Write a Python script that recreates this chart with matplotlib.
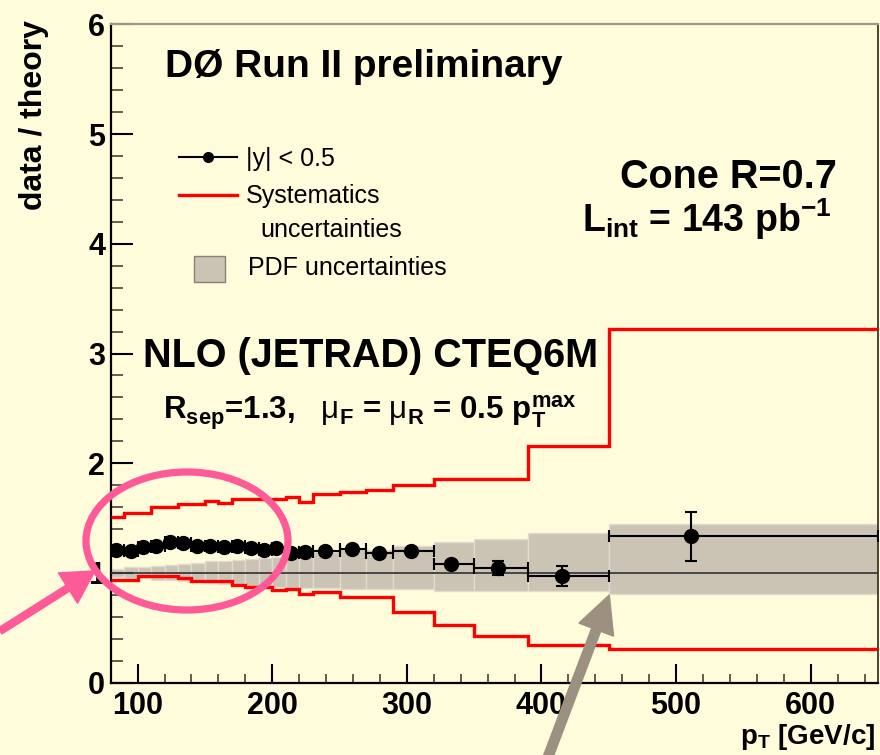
import numpy as np
import matplotlib
matplotlib.use('Agg')
import matplotlib.pyplot as plt
from matplotlib.patches import Ellipse, FancyArrow, Rectangle
from matplotlib.transforms import IdentityTransform
from matplotlib.ticker import MultipleLocator

plt.rcParams['font.family'] = ['Liberation Sans', 'DejaVu Sans']
plt.rcParams['mathtext.fontset'] = 'custom'
plt.rcParams['mathtext.rm'] = 'Liberation Sans'
plt.rcParams['mathtext.bf'] = 'Liberation Sans:bold'
plt.rcParams['mathtext.it'] = 'Liberation Sans:italic'
plt.rcParams['mathtext.default'] = 'bf'

# ==========================================
# Data: |y| < 0.5 inclusive jet ratio to NLO
# ==========================================
bin_edges = np.array([80, 90, 100, 110, 120, 130, 140, 150, 160, 170, 180, 190,
                      200, 210, 220, 230, 250, 270, 290, 320, 350, 390, 450, 650])

pt_points = np.array([84, 95, 104, 114, 124, 134, 144, 154, 164, 174, 184, 194,
                      203, 214, 224, 239, 259, 279, 303, 333, 368, 415, 511])
ratio = np.array([1.21, 1.20, 1.24, 1.25, 1.28, 1.27, 1.245, 1.245, 1.24, 1.245,
                  1.225, 1.21, 1.225, 1.185, 1.19, 1.196, 1.218, 1.182, 1.196,
                  1.081, 1.045, 0.969, 1.333])
stat_err = np.array([0.01, 0.01, 0.01, 0.01, 0.01, 0.01, 0.01, 0.01, 0.01, 0.01,
                     0.01, 0.01, 0.01, 0.012, 0.012, 0.012, 0.015, 0.018, 0.02,
                     0.03, 0.064, 0.09, 0.22])

# systematic uncertainty envelope (per bin)
sys_hi = np.array([1.51, 1.55, 1.55, 1.60, 1.60, 1.63, 1.63, 1.655, 1.64, 1.67,
                   1.67, 1.67, 1.67, 1.69, 1.65, 1.72, 1.74, 1.76, 1.80, 1.86,
                   1.86, 2.16, 3.22])
sys_lo = np.array([0.94, 0.94, 0.97, 0.97, 0.97, 0.95, 0.93, 0.93, 0.93, 0.89,
                   0.875, 0.875, 0.845, 0.85, 0.81, 0.83, 0.78, 0.78, 0.64, 0.525,
                   0.43, 0.34, 0.305])

# PDF uncertainty band (per bin)
pdf_hi = np.array([1.04, 1.05, 1.055, 1.065, 1.075, 1.085, 1.095, 1.105, 1.11,
                   1.12, 1.13, 1.14, 1.15, 1.16, 1.17, 1.19, 1.22, 1.21, 1.25,
                   1.28, 1.31, 1.36, 1.45])
pdf_lo = np.array([0.96, 0.955, 0.95, 0.94, 0.935, 0.93, 0.92, 0.91, 0.90, 0.895,
                   0.885, 0.88, 0.87, 0.865, 0.86, 0.86, 0.855, 0.855, 0.85, 0.84,
                   0.84, 0.835, 0.81])

x_ticks = [100, 200, 300, 400, 500, 600]
y_ticks = [0, 1, 2, 3, 4, 5, 6]

bg = '#fffcdc'
band_color = '#cbc4b5'
pink = '#ff5a98'
arrow_gray = '#9c9080'

# ==========================================
# Figure
# ==========================================
W, H = 880, 755
fig = plt.figure(figsize=(W / 100, H / 100), dpi=100, facecolor=bg)
ax = fig.add_axes([110.7 / W, 72.3 / H, 767.3 / W, 658.4 / H], facecolor=bg)

widths = np.diff(bin_edges)
ax.bar(bin_edges[:-1], pdf_hi - pdf_lo, width=widths, bottom=pdf_lo,
       align='edge', color=band_color, edgecolor='#e3dbcb', linewidth=1.0, zorder=1)

ax.stairs(sys_hi, bin_edges, baseline=None, color='#ff0000', lw=2.4, zorder=3)
ax.stairs(sys_lo, bin_edges, baseline=None, color='#ff0000', lw=2.4, zorder=3)

ax.axhline(1.0, color='#3c3c3c', lw=1.3, zorder=4)

x_lo = pt_points - bin_edges[:-1]
x_hi = bin_edges[1:] - pt_points
ax.errorbar(pt_points, ratio, xerr=[x_lo, x_hi], yerr=stat_err, fmt='o',
            color='black', ms=10, lw=1.5, capsize=4, capthick=1.5, zorder=5)

ax.set_xlim(80, 650)
ax.set_ylim(0, 6)
ax.set_xticks(x_ticks)
ax.set_yticks(y_ticks)
ax.xaxis.set_minor_locator(MultipleLocator(20))
ax.yaxis.set_minor_locator(MultipleLocator(0.2))
ax.tick_params(which='major', direction='in', top=False, right=False,
               labelsize=22, width=1.5, color='black')
ax.tick_params(axis='y', which='major', length=16, pad=4)
ax.tick_params(axis='x', which='major', length=14, pad=6)
ax.tick_params(which='minor', direction='in', top=False, right=False,
               width=1.2, color='#4a4038')
ax.tick_params(axis='y', which='minor', length=8.5)
ax.tick_params(axis='x', which='minor', length=6.5)
plt.setp(ax.get_xticklabels() + ax.get_yticklabels(), fontweight='bold')

ax.spines['left'].set_linewidth(1.6)
ax.spines['bottom'].set_linewidth(1.6)
ax.spines['top'].set_color('#a39783')
ax.spines['top'].set_linewidth(1.6)
ax.spines['right'].set_color('#403428')
ax.spines['right'].set_linewidth(1.3)

# axis titles
fig.text(34 / W, 1 - 20 / H, 'data / theory', rotation=90, ha='center', va='top',
         fontsize=23, fontweight='bold')
fig.text(875 / W, 11 / H, 'p$_{T}$ [GeV/c]', ha='right', va='baseline',
         fontsize=20, fontweight='bold')

# labels inside the frame
ax.text(0.0708, 0.920, 'DØ Run II preliminary', transform=ax.transAxes,
        fontsize=28, fontweight='bold', va='baseline')
ax.text(0.9466, 0.7514, 'Cone R=0.7', transform=ax.transAxes, ha='right',
        fontsize=28.5, fontweight='bold', va='baseline')
ax.text(0.614, 0.6845, 'L$_{int}$ = 143 pb$^{-1}$', transform=ax.transAxes,
        fontsize=27, fontweight='bold', va='baseline')
ax.text(0.042, 0.4795, 'NLO (JETRAD) CTEQ6M', transform=ax.transAxes,
        fontsize=28.5, fontweight='bold', va='baseline')
ax.text(0.068, 0.400,
        r'R$_{sep}$=1.3,   $\mathrm{\mu}_{F}$ = $\mathrm{\mu}_{R}$ = 0.5 p$_{T}^{max}$',
        transform=ax.transAxes, fontsize=22.5, fontweight='bold', va='baseline')

# key
ax.plot([0.0887, 0.1645], [0.798, 0.798], color='black', lw=1.5,
        transform=ax.transAxes, clip_on=False)
ax.plot([0.1266], [0.798], 'o', color='black', ms=7, transform=ax.transAxes)
ax.plot([0.0887, 0.1645], [0.7405, 0.7405], color='#ff0000', lw=2.4,
        transform=ax.transAxes)
ax.add_patch(Rectangle((0.1085, 0.6086), 0.0407, 0.0394, transform=ax.transAxes,
                       facecolor=band_color, edgecolor='#8a8070', lw=1.0))
ax.text(0.1766, 0.785, '|y| < 0.5', transform=ax.transAxes, fontsize=18, va='baseline')
ax.text(0.1766, 0.729, 'Systematics', transform=ax.transAxes, fontsize=18, va='baseline')
ax.text(0.1953, 0.677, 'uncertainties', transform=ax.transAxes, fontsize=18, va='baseline')
ax.text(0.1792, 0.619, 'PDF uncertainties', transform=ax.transAxes, fontsize=18,
        va='baseline')

# highlight ellipse and arrows (pixel coordinates, origin bottom-left)
ident = IdentityTransform()
fig.add_artist(Ellipse((187, H - 541), 202, 138, transform=ident, fill=False,
                       edgecolor=pink, lw=5.2, zorder=10))
fig.add_artist(FancyArrow(0, H - 631, 95, 60, width=7, head_width=36, head_length=32,
                          length_includes_head=True, transform=ident,
                          color=pink, zorder=10))
fig.add_artist(FancyArrow(545, H - 765, 64.3, 170, width=9.5, head_width=37,
                          head_length=37, length_includes_head=True, transform=ident,
                          color=arrow_gray, zorder=10))

fig.savefig('out.png', dpi=100, facecolor=bg)
